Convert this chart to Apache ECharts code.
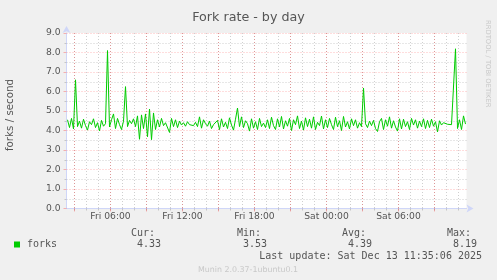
<!DOCTYPE html>
<html>
<head>
<meta charset="utf-8">
<script src="https://cdn.jsdelivr.net/npm/echarts@6/dist/echarts.min.js"></script>
<style>
html,body{margin:0;padding:0;background:#f0f0f0;}
#chart{width:497px;height:280px;}
</style>
</head>
<body>
<div id="chart"></div>
<script>
// ---- data ----
const titleText = 'Fork rate - by day';
const yAxisName = 'forks / second';
const seriesName = 'forks';
// sample times: one sample every 10 minutes, hours since Fri 00:00
const firstSampleHour = 2 + 25 / 60;
const sampleStepHours = 10 / 60;
const forks = [
  4.55, 4.15, 4.62, 4.08, 6.60, 4.20, 4.48, 4.12, 4.58, 4.25,
  4.02, 4.45, 4.30, 4.60, 4.15, 4.40, 3.98, 4.52, 4.22, 4.35,
  8.10, 4.18, 4.55, 4.85, 4.10, 4.62, 4.30, 4.05, 4.48, 6.25,
  4.20, 4.52, 4.35, 4.60, 4.20, 4.75, 3.55, 4.80, 4.10, 4.85,
  3.68, 5.10, 3.53, 4.90, 4.05, 4.55, 4.18, 4.62, 4.25, 4.40,
  4.45, 3.90, 4.62, 4.20, 4.55, 4.15, 4.48, 4.28, 4.40, 4.22,
  4.45, 4.30, 4.38, 4.25, 4.42, 4.20, 4.70, 4.12, 4.55, 4.35,
  4.22, 4.48, 4.10, 4.30, 4.25, 4.52, 4.05, 4.60, 4.18, 4.42,
  4.10, 4.65, 4.28, 4.02, 4.58, 5.15, 4.20, 4.70, 4.15, 4.50,
  4.35, 3.97, 4.60, 4.12, 4.45, 4.05, 4.62, 4.20, 4.38, 4.15,
  4.55, 4.10, 4.68, 4.25, 4.05, 4.60, 4.18, 4.72, 4.08, 4.50,
  4.22, 4.62, 4.00, 4.55, 4.30, 4.75, 4.10, 4.48, 4.02, 4.65,
  4.20, 4.58, 4.12, 4.70, 4.05, 4.42, 4.25, 4.74, 4.08, 4.55,
  4.15, 4.62, 4.30, 4.05, 4.68, 4.20, 4.50, 4.00, 4.72, 4.18,
  4.45, 4.08, 4.60, 4.25, 4.55, 4.12, 4.40, 4.20, 6.18, 4.35,
  4.15, 4.48, 4.25, 4.52, 4.10, 3.95, 4.45, 4.62, 4.05, 4.55,
  4.22, 4.70, 4.12, 4.50, 4.18, 3.97, 4.60, 4.08, 4.58, 4.20,
  4.45, 4.05, 4.62, 4.28, 4.55, 4.12, 4.48, 4.20, 4.60, 4.10,
  4.52, 4.15, 4.58, 4.22, 4.45, 3.93, 4.50, 4.28, 4.40, 4.35,
  4.32, 4.38, 4.30, 4.36, 8.19, 4.10, 4.55, 4.05, 4.75, 4.33
];
const xStartHour = 2 + 20 / 60;
const xEndHour = xStartHour + 400 * 5 / 60;
const xLabelHours = [6, 12, 18, 24, 30];
const xLabelTexts = ['Fri 06:00', 'Fri 12:00', 'Fri 18:00', 'Sat 00:00', 'Sat 06:00'];
const yTicks = [0, 1, 2, 3, 4, 5, 6, 7, 8, 9];
const statHeaders = ['Cur:', 'Min:', 'Avg:', 'Max:'];
const statValues = ['4.33', '3.53', '4.39', '8.19'];
const lastUpdate = 'Last update: Sat Dec 13 11:35:06 2025';
const watermark = 'RRDTOOL / TOBI OETIKER';
const footer = 'Munin 2.0.37-1ubuntu0.1';

// ---- build ----
const points = forks.map((v, i) => [firstSampleHour + i * sampleStepHours, v]);
const minorHours = [];
for (let h = 3; h <= 35; h++) minorHours.push(h);
const majorHours = minorHours.filter(h => h % 3 === 0);

const fontSans = 'DejaVu Sans';
const fontMono = 'DejaVu Sans Mono';
const textCol = '#555';
const axisCol = '#cfd6f8';
const minorGridCol = 'rgba(128,128,128,0.38)';
const majorGridCol = 'rgba(255,0,0,0.27)';

const chart = echarts.init(document.getElementById('chart'));

const headerRight = [155, 261, 366, 471];
const valueRight = [161, 267, 372, 477];

const graphics = [
  { type: 'text', x: 10.5, y: 115, rotation: Math.PI / 2,
    style: { text: yAxisName, fontFamily: fontSans, fontSize: 10.3, fill: textCol, align: 'center', verticalAlign: 'middle' } },
  { type: 'text', x: 487.5, y: 20, rotation: -Math.PI / 2,
    style: { text: watermark, fontFamily: fontSans, fontSize: 6.8, fill: '#c8c8c8', align: 'left', verticalAlign: 'middle' } },
  { type: 'rect', shape: { x: 14, y: 241.5, width: 6, height: 6 }, style: { fill: '#00cc00' } },
  { type: 'text', x: 27, y: 244.5,
    style: { text: seriesName, fontFamily: fontMono, fontSize: 10, fill: textCol, align: 'left', verticalAlign: 'middle' } },
  { type: 'text', x: 482, y: 256,
    style: { text: lastUpdate, fontFamily: fontMono, fontSize: 10, fill: textCol, align: 'right', verticalAlign: 'middle' } },
  { type: 'text', x: 248, y: 269.5,
    style: { text: footer, fontFamily: fontSans, fontSize: 7.9, fill: '#c8c8c8', align: 'center', verticalAlign: 'middle' } }
];
statHeaders.forEach((t, i) => {
  graphics.push({ type: 'text', x: headerRight[i], y: 233,
    style: { text: t, fontFamily: fontMono, fontSize: 10, fill: textCol, align: 'right', verticalAlign: 'middle' } });
  graphics.push({ type: 'text', x: valueRight[i], y: 244.5,
    style: { text: statValues[i], fontFamily: fontMono, fontSize: 10, fill: textCol, align: 'right', verticalAlign: 'middle' } });
});

chart.setOption({
  animation: false,
  backgroundColor: '#f0f0f0',
  title: {
    text: titleText, left: 'center', top: 6.5,
    textStyle: { fontFamily: fontSans, fontSize: 12.7, fontWeight: 'normal', color: textCol }
  },
  grid: {
    left: 66.5, top: 33, width: 400, height: 175.5,
    show: true, backgroundColor: '#ffffff', borderWidth: 0
  },
  xAxis: [
    {
      type: 'value', min: xStartHour, max: xEndHour, position: 'bottom',
      axisLine: { show: true, lineStyle: { color: axisCol, width: 1 }, symbol: ['none', 'arrow'], symbolSize: [6, 7], symbolOffset: [0, 7] },
      axisTick: { show: true, customValues: minorHours, length: 2, lineStyle: { color: minorGridCol } },
      axisLabel: { show: false },
      splitLine: { show: true, lineStyle: { color: minorGridCol, type: [1, 2], width: 1 } }
    },
    {
      type: 'value', min: xStartHour, max: xEndHour, position: 'bottom',
      axisLine: { show: false },
      axisTick: { show: true, customValues: majorHours, length: 3, lineStyle: { color: majorGridCol } },
      axisLabel: {
        show: true, customValues: xLabelHours, margin: 4,
        fontFamily: fontSans, fontSize: 9.2, color: textCol,
        formatter: v => { const k = xLabelHours.indexOf(Math.round(v)); return k >= 0 ? xLabelTexts[k] : ''; }
      },
      splitLine: { show: true, lineStyle: { color: majorGridCol, type: [1, 2], width: 1 } }
    }
  ],
  yAxis: {
    type: 'value', min: yTicks[0], max: yTicks[yTicks.length - 1], interval: 1,
    axisLine: { show: true, lineStyle: { color: axisCol, width: 1 }, symbol: ['none', 'arrow'], symbolSize: [6, 7], symbolOffset: [0, 7] },
    axisTick: { show: true, length: 3, lineStyle: { color: majorGridCol } },
    minorTick: { show: true, splitNumber: 2, length: 2, lineStyle: { color: minorGridCol } },
    axisLabel: { margin: 6, fontFamily: fontSans, fontSize: 9.2, color: textCol, formatter: v => v.toFixed(1) },
    splitLine: { show: true, lineStyle: { color: majorGridCol, type: [1, 2], width: 1 } },
    minorSplitLine: { show: true, lineStyle: { color: minorGridCol, type: [1, 2], width: 1 } }
  },
  series: [{
    type: 'line', name: seriesName, data: points, xAxisIndex: 0,
    showSymbol: false, symbol: 'none',
    lineStyle: { color: '#00cc00', width: 1 },
    z: 5
  }],
  graphic: graphics
});
</script>
</body>
</html>
